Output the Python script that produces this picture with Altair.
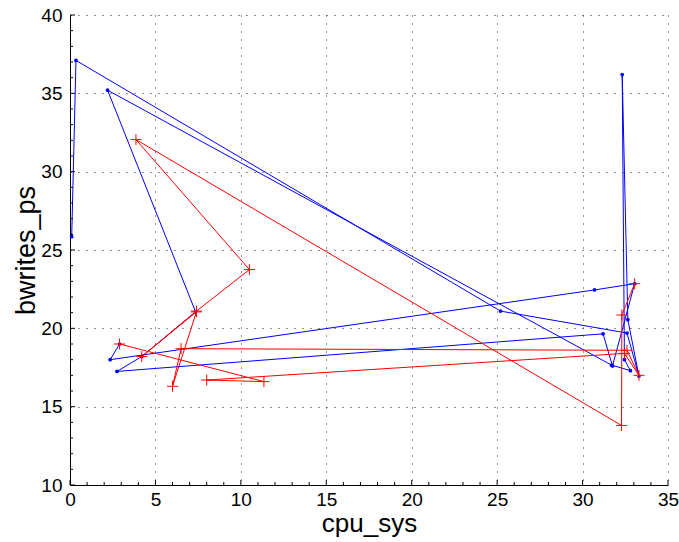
import altair as alt
import pandas as pd

# Series 1: blue dots joined by lines
blue_x = [0.10, 0.35, 25.2, 32.6, 33.3, 32.65, 32.32, 32.45, 32.8, 31.7,
          2.2, 7.35, 4.2, 2.75, 31.2, 31.75, 33.05, 30.7, 2.35, 2.9]
blue_y = [25.85, 37.1, 21.1, 19.7, 16.95, 20.55, 36.2, 18.0, 17.3, 17.65,
          35.2, 21.05, 18.2, 17.25, 19.65, 17.6, 22.85, 22.45, 18.0, 19.0]

# Series 2: red plus markers joined by lines
red_x = [2.9, 11.35, 8.0, 32.45, 33.3, 32.6, 6.5, 6.0, 7.4, 4.2,
         7.4, 10.5, 3.86, 32.28, 32.3, 33.05]
red_y = [19.0, 16.6, 16.7, 18.4, 17.0, 18.6, 18.7, 16.3, 21.05, 18.2,
         21.1, 23.75, 32.05, 13.8, 20.85, 22.85]

x_major = list(range(0, 36, 5))
y_major = list(range(10, 41, 5))
x_minor = [v for v in range(0, 36) if v % 5]
y_minor = [v for v in range(10, 41) if v % 5]

W, H = 598, 470
FONT = "Liberation Sans"

blue = pd.DataFrame({"cpu_sys": blue_x, "bwrites_ps": blue_y,
                     "order": range(len(blue_x))})
red = pd.DataFrame({"cpu_sys": red_x, "bwrites_ps": red_y,
                    "order": range(len(red_x))})

xs = alt.Scale(domain=[0, 35], nice=False, zero=False)
ys = alt.Scale(domain=[10, 40], nice=False, zero=False)

x_axis = alt.Axis(values=x_major, grid=True, gridDash=[1, 7], gridColor="#000",
                  gridOpacity=0.85, ticks=False, domainColor="#000",
                  labelFont=FONT, labelFontSize=19, labelColor="#000",
                  labelPadding=5, labelFlush=False,
                  title="cpu_sys", titleFont=FONT, titleFontSize=26,
                  titleFontWeight="normal", titleColor="#000", titlePadding=1)
y_axis = alt.Axis(values=y_major, grid=True, gridDash=[1, 7], gridColor="#000",
                  gridOpacity=0.85, ticks=False, domainColor="#000",
                  labelFont=FONT, labelFontSize=19, labelColor="#000",
                  labelPadding=8, labelFlush=False,
                  title="bwrites_ps", titleFont=FONT, titleFontSize=27,
                  titleFontWeight="normal", titleColor="#000", titlePadding=0)

X = alt.X("cpu_sys:Q", scale=xs, axis=x_axis)
Y = alt.Y("bwrites_ps:Q", scale=ys, axis=y_axis)

blue_line = alt.Chart(blue).mark_line(color="#0000ff", strokeWidth=1).encode(
    x=X, y=Y, order="order:Q")
blue_pts = alt.Chart(blue).mark_point(color="#0000ff", filled=True, opacity=1,
                                      size=14, shape="circle").encode(x=X, y=Y)
red_line = alt.Chart(red).mark_line(color="#ff0000", strokeWidth=1).encode(
    x=X, y=Y, order="order:Q")
red_pts = alt.Chart(red).mark_point(color="#ff0000", filled=False, opacity=1,
                                    size=121, strokeWidth=1,
                                    shape="M-1,0L1,0M0,-1L0,1").encode(x=X, y=Y)

# inward tick marks on the left and bottom axes
XV = alt.X("v:Q", scale=xs, axis=x_axis)
YV = alt.Y("v:Q", scale=ys, axis=y_axis)
xt_major = alt.Chart(pd.DataFrame({"v": x_major})).mark_rule(color="#000").encode(
    x=XV, y=alt.value(H), y2=alt.value(H - 5))
xt_minor = alt.Chart(pd.DataFrame({"v": x_minor})).mark_rule(color="#000").encode(
    x=XV, y=alt.value(H), y2=alt.value(H - 3))
yt_major = alt.Chart(pd.DataFrame({"v": y_major})).mark_rule(color="#000").encode(
    y=YV, x=alt.value(0), x2=alt.value(5))
yt_minor = alt.Chart(pd.DataFrame({"v": y_minor})).mark_rule(color="#000").encode(
    y=YV, x=alt.value(0), x2=alt.value(3))

chart = alt.layer(
    blue_line, blue_pts, red_line, red_pts,
    xt_major, xt_minor, yt_major, yt_minor,
).properties(
    width=W, height=H,
    autosize=alt.AutoSizeParams(type="none"),
    padding={"left": 70, "top": 15, "right": 11, "bottom": 57},
    background="white",
).configure_view(stroke=None)

chart.save("out.html", embed_options={"renderer": "svg", "actions": False})
